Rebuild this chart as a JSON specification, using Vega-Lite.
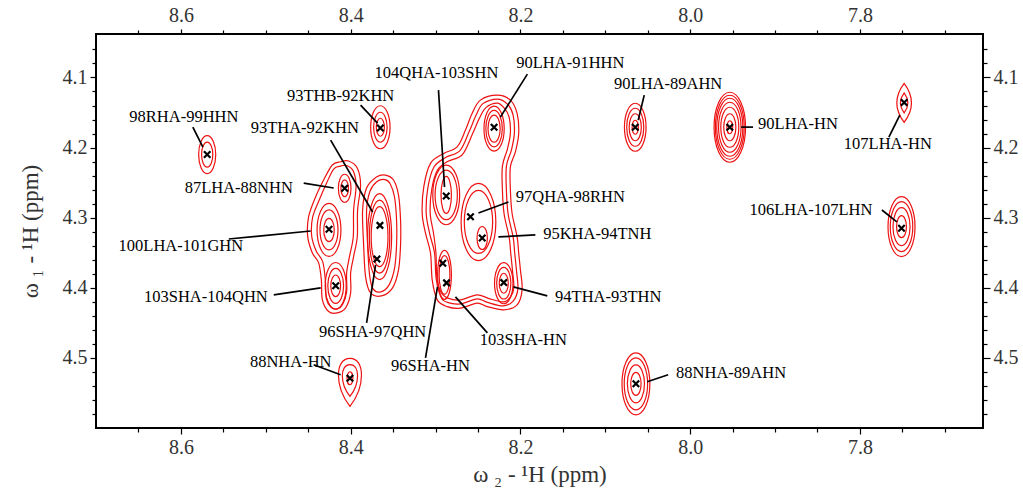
{
"$schema": "https://vega.github.io/schema/vega-lite/v6.json",
"width": 887, "height": 394,
"autosize": "none",
"padding": {"left": 96, "top": 34, "right": 40, "bottom": 60},
"background": "white",
"config": {
  "view": {"stroke": "black", "strokeWidth": 2},
  "font": "Liberation Serif",
  "axis": {"grid": false, "domain": false, "labelFont": "Liberation Serif", "labelFontSize": 20, "labelColor": "#333333", "titleFont": "Liberation Serif", "titleFontSize": 23, "titleFontWeight": "normal", "titleColor": "#333333", "tickColor": "black", "tickWidth": 1.2, "labelOverlap": false, "labelBound": false}
},
"datasets": {
  "contours": [
    {"c":"A1","i":1,"x":8.4118,"y":4.2202},{"c":"A1","i":2,"x":8.4216,"y":4.2249},{"c":"A1","i":3,"x":8.4318,"y":4.2463},{"c":"A1","i":4,"x":8.4412,"y":4.2701},{"c":"A1","i":5,"x":8.4495,"y":4.2986},{"c":"A1","i":6,"x":8.4506,"y":4.3271},{"c":"A1","i":7,"x":8.4451,"y":4.3503},{"c":"A1","i":8,"x":8.4377,"y":4.3645},{"c":"A1","i":9,"x":8.4345,"y":4.3888},{"c":"A1","i":10,"x":8.4333,"y":4.4172},{"c":"A1","i":11,"x":8.4259,"y":4.4339},{"c":"A1","i":12,"x":8.4157,"y":4.4358},{"c":"A1","i":13,"x":8.4059,"y":4.4286},{"c":"A1","i":14,"x":8.4,"y":4.4073},{"c":"A1","i":15,"x":8.4,"y":4.3788},{"c":"A1","i":16,"x":8.3965,"y":4.3556},{"c":"A1","i":17,"x":8.3922,"y":4.3271},{"c":"A1","i":18,"x":8.3918,"y":4.289},{"c":"A1","i":19,"x":8.3883,"y":4.2534},{"c":"A1","i":20,"x":8.3922,"y":4.2292},{"c":"A1","i":21,"x":8.4024,"y":4.2192},
    {"c":"A2","i":1,"x":8.4118,"y":4.2264},{"c":"A2","i":2,"x":8.42,"y":4.2306},{"c":"A2","i":3,"x":8.4283,"y":4.2506},{"c":"A2","i":4,"x":8.4365,"y":4.2734},{"c":"A2","i":5,"x":8.4447,"y":4.299},{"c":"A2","i":6,"x":8.4459,"y":4.3261},{"c":"A2","i":7,"x":8.4406,"y":4.3474},{"c":"A2","i":8,"x":8.433,"y":4.3624},{"c":"A2","i":9,"x":8.4298,"y":4.3888},{"c":"A2","i":10,"x":8.4286,"y":4.4158},{"c":"A2","i":11,"x":8.423,"y":4.4279},{"c":"A2","i":12,"x":8.4157,"y":4.4301},{"c":"A2","i":13,"x":8.4095,"y":4.4237},{"c":"A2","i":14,"x":8.4047,"y":4.4058},{"c":"A2","i":15,"x":8.4047,"y":4.3788},{"c":"A2","i":16,"x":8.4012,"y":4.3546},{"c":"A2","i":17,"x":8.3969,"y":4.3271},{"c":"A2","i":18,"x":8.3965,"y":4.289},{"c":"A2","i":19,"x":8.3936,"y":4.2549},{"c":"A2","i":20,"x":8.3969,"y":4.2335},{"c":"A2","i":21,"x":8.4047,"y":4.2256},
    {"c":"R1","i":1,"x":8.3695,"y":4.242},{"c":"R1","i":2,"x":8.3589,"y":4.2392},{"c":"R1","i":3,"x":8.3495,"y":4.2463},{"c":"R1","i":4,"x":8.3436,"y":4.2677},{"c":"R1","i":5,"x":8.3412,"y":4.3033},{"c":"R1","i":6,"x":8.3412,"y":4.3389},{"c":"R1","i":7,"x":8.3436,"y":4.3745},{"c":"R1","i":8,"x":8.3506,"y":4.4001},{"c":"R1","i":9,"x":8.3636,"y":4.4115},{"c":"R1","i":10,"x":8.3765,"y":4.4073},{"c":"R1","i":11,"x":8.3824,"y":4.3845},{"c":"R1","i":12,"x":8.3847,"y":4.3389},{"c":"R1","i":13,"x":8.3859,"y":4.289},{"c":"R1","i":14,"x":8.3812,"y":4.2577},
    {"c":"R2","i":1,"x":8.3689,"y":4.2484},{"c":"R2","i":2,"x":8.3595,"y":4.2456},{"c":"R2","i":3,"x":8.3536,"y":4.2513},{"c":"R2","i":4,"x":8.3483,"y":4.2705},{"c":"R2","i":5,"x":8.3459,"y":4.3033},{"c":"R2","i":6,"x":8.3459,"y":4.3389},{"c":"R2","i":7,"x":8.3483,"y":4.3724},{"c":"R2","i":8,"x":8.3547,"y":4.3959},{"c":"R2","i":9,"x":8.3642,"y":4.4058},{"c":"R2","i":10,"x":8.3736,"y":4.4016},{"c":"R2","i":11,"x":8.3777,"y":4.3816},{"c":"R2","i":12,"x":8.38,"y":4.3389},{"c":"R2","i":13,"x":8.3812,"y":4.289},{"c":"R2","i":14,"x":8.3771,"y":4.262},
    {"c":"B1","i":1,"x":8.2274,"y":4.1252},{"c":"B1","i":2,"x":8.2118,"y":4.1323},{"c":"B1","i":3,"x":8.2039,"y":4.1513},{"c":"B1","i":4,"x":8.202,"y":4.1798},{"c":"B1","i":5,"x":8.2059,"y":4.206},{"c":"B1","i":6,"x":8.2118,"y":4.2274},{"c":"B1","i":7,"x":8.2118,"y":4.2605},{"c":"B1","i":8,"x":8.2098,"y":4.2937},{"c":"B1","i":9,"x":8.2039,"y":4.3271},{"c":"B1","i":10,"x":8.202,"y":4.3507},{"c":"B1","i":11,"x":8.2,"y":4.3745},{"c":"B1","i":12,"x":8.198,"y":4.403},{"c":"B1","i":13,"x":8.2039,"y":4.4244},{"c":"B1","i":14,"x":8.2197,"y":4.4315},{"c":"B1","i":15,"x":8.2392,"y":4.4268},{"c":"B1","i":16,"x":8.251,"y":4.4219},{"c":"B1","i":17,"x":8.2706,"y":4.4291},{"c":"B1","i":18,"x":8.2863,"y":4.4268},{"c":"B1","i":19,"x":8.298,"y":4.4172},{"c":"B1","i":20,"x":8.3039,"y":4.3888},{"c":"B1","i":21,"x":8.3059,"y":4.3507},{"c":"B1","i":22,"x":8.3118,"y":4.3222},{"c":"B1","i":23,"x":8.3157,"y":4.2937},{"c":"B1","i":24,"x":8.3138,"y":4.2558},{"c":"B1","i":25,"x":8.3059,"y":4.2225},{"c":"B1","i":26,"x":8.2903,"y":4.2083},{"c":"B1","i":27,"x":8.2745,"y":4.1989},{"c":"B1","i":28,"x":8.2647,"y":4.1751},{"c":"B1","i":29,"x":8.2569,"y":4.1513},{"c":"B1","i":30,"x":8.2471,"y":4.1323},
    {"c":"B2","i":1,"x":8.2274,"y":4.1309},{"c":"B2","i":2,"x":8.2153,"y":4.138},{"c":"B2","i":3,"x":8.2086,"y":4.1537},{"c":"B2","i":4,"x":8.2071,"y":4.1794},{"c":"B2","i":5,"x":8.2106,"y":4.2036},{"c":"B2","i":6,"x":8.2165,"y":4.2264},{"c":"B2","i":7,"x":8.2165,"y":4.2605},{"c":"B2","i":8,"x":8.2145,"y":4.2947},{"c":"B2","i":9,"x":8.2086,"y":4.3275},{"c":"B2","i":10,"x":8.2067,"y":4.3503},{"c":"B2","i":11,"x":8.2047,"y":4.3745},{"c":"B2","i":12,"x":8.203,"y":4.4016},{"c":"B2","i":13,"x":8.2083,"y":4.4187},{"c":"B2","i":14,"x":8.22,"y":4.4258},{"c":"B2","i":15,"x":8.2389,"y":4.4208},{"c":"B2","i":16,"x":8.251,"y":4.4158},{"c":"B2","i":17,"x":8.2706,"y":4.4229},{"c":"B2","i":18,"x":8.2859,"y":4.4208},{"c":"B2","i":19,"x":8.2936,"y":4.413},{"c":"B2","i":20,"x":8.2992,"y":4.3873},{"c":"B2","i":21,"x":8.3012,"y":4.3503},{"c":"B2","i":22,"x":8.3071,"y":4.3218},{"c":"B2","i":23,"x":8.311,"y":4.2933},{"c":"B2","i":24,"x":8.3091,"y":4.2577},{"c":"B2","i":25,"x":8.3018,"y":4.2278},{"c":"B2","i":26,"x":8.2883,"y":4.2143},{"c":"B2","i":27,"x":8.2712,"y":4.2043},{"c":"B2","i":28,"x":8.2606,"y":4.1779},{"c":"B2","i":29,"x":8.2524,"y":4.1544},{"c":"B2","i":30,"x":8.2442,"y":4.1373},
    {"c":"B3","i":1,"x":8.2274,"y":4.1366},{"c":"B3","i":2,"x":8.2189,"y":4.1437},{"c":"B3","i":3,"x":8.2133,"y":4.1566},{"c":"B3","i":4,"x":8.2118,"y":4.1794},{"c":"B3","i":5,"x":8.2153,"y":4.2021},{"c":"B3","i":6,"x":8.2212,"y":4.2264},{"c":"B3","i":7,"x":8.2212,"y":4.2605},{"c":"B3","i":8,"x":8.2192,"y":4.2947},{"c":"B3","i":9,"x":8.2133,"y":4.3275},{"c":"B3","i":10,"x":8.2114,"y":4.3503},{"c":"B3","i":11,"x":8.2094,"y":4.3745},{"c":"B3","i":12,"x":8.2077,"y":4.4001},{"c":"B3","i":13,"x":8.2118,"y":4.413},{"c":"B3","i":14,"x":8.22,"y":4.4201},{"c":"B3","i":15,"x":8.2377,"y":4.4151},{"c":"B3","i":16,"x":8.251,"y":4.4101},{"c":"B3","i":17,"x":8.2706,"y":4.4172},{"c":"B3","i":18,"x":8.2847,"y":4.4151},{"c":"B3","i":19,"x":8.293,"y":4.4073},{"c":"B3","i":20,"x":8.2983,"y":4.3873},{"c":"B3","i":21,"x":8.2995,"y":4.3503},{"c":"B3","i":22,"x":8.3024,"y":4.3218},{"c":"B3","i":23,"x":8.3063,"y":4.2933},{"c":"B3","i":24,"x":8.3044,"y":4.2591},{"c":"B3","i":25,"x":8.2977,"y":4.2321},{"c":"B3","i":26,"x":8.2859,"y":4.22},{"c":"B3","i":27,"x":8.2683,"y":4.21},{"c":"B3","i":28,"x":8.2565,"y":4.1808},{"c":"B3","i":29,"x":8.2483,"y":4.158},{"c":"B3","i":30,"x":8.2406,"y":4.143}
  ],
  "rings": [
    {"x":7.9533,"y":4.171,"h":0.0997,"form":"oval"},{"x":7.9533,"y":4.171,"h":0.0912,"form":"oval"},{"x":7.9533,"y":4.171,"h":0.0826,"form":"oval"},{"x":7.9533,"y":4.171,"h":0.0712,"form":"oval"},{"x":7.9533,"y":4.171,"h":0.057,"form":"oval"},{"x":7.9533,"y":4.171,"h":0.0385,"form":"oval"},{"x":7.9533,"y":4.171,"h":0.0185,"form":"oval"},
    {"x":8.0647,"y":4.171,"h":0.0684,"form":"oval"},{"x":8.0647,"y":4.171,"h":0.0541,"form":"oval"},{"x":8.0647,"y":4.171,"h":0.0385,"form":"oval"},{"x":8.0647,"y":4.171,"h":0.0199,"form":"oval"},
    {"x":8.0639,"y":4.537,"h":0.0883,"form":"oval"},{"x":8.0639,"y":4.537,"h":0.0741,"form":"oval"},{"x":8.0639,"y":4.537,"h":0.0541,"form":"oval"},{"x":8.0639,"y":4.537,"h":0.0328,"form":"oval"},
    {"x":8.569,"y":4.21,"h":0.0541,"form":"oval"},{"x":8.569,"y":4.21,"h":0.0356,"form":"oval"},
    {"x":8.365,"y":4.171,"h":0.0613,"form":"oval"},{"x":8.365,"y":4.171,"h":0.0427,"form":"oval"},{"x":8.365,"y":4.171,"h":0.0256,"form":"oval"},
    {"x":7.751,"y":4.3128,"h":0.0855,"form":"oval"},{"x":7.751,"y":4.3128,"h":0.0712,"form":"oval"},{"x":7.751,"y":4.3128,"h":0.0541,"form":"oval"},{"x":7.751,"y":4.3128,"h":0.0313,"form":"oval"},
    {"x":7.7479,"y":4.1363,"h":0.0556,"form":"lens"},{"x":7.7479,"y":4.1363,"h":0.0285,"form":"lens"},
    {"x":8.4008,"y":4.5348,"h":0.0684,"form":"drop"},{"x":8.4008,"y":4.5323,"h":0.0452,"form":"drop"},{"x":8.4008,"y":4.529,"h":0.0185,"form":"oval"},
    {"x":8.231,"y":4.173,"h":0.0385,"form":"oval"},{"x":8.231,"y":4.173,"h":0.052,"form":"oval"},{"x":8.231,"y":4.173,"h":0.064,"form":"oval"},
    {"x":8.2874,"y":4.2675,"h":0.0527,"form":"slim"},{"x":8.2874,"y":4.2675,"h":0.0705,"form":"oval"},{"x":8.2874,"y":4.2675,"h":0.085,"form":"oval"},
    {"x":8.2494,"y":4.3061,"h":0.0897,"form":"oval"},{"x":8.2494,"y":4.3061,"h":0.11,"form":"oval"},
    {"x":8.245,"y":4.329,"h":0.0328,"form":"oval"},
    {"x":8.2894,"y":4.3816,"h":0.055,"form":"slim"},{"x":8.2894,"y":4.3816,"h":0.07,"form":"slim"},
    {"x":8.2196,"y":4.3935,"h":0.0285,"form":"oval"},{"x":8.2196,"y":4.3935,"h":0.045,"form":"oval"},{"x":8.2196,"y":4.3935,"h":0.0585,"form":"oval"},
    {"x":8.407,"y":4.258,"h":0.0238,"form":"oval"},{"x":8.407,"y":4.258,"h":0.0399,"form":"oval"},
    {"x":8.4255,"y":4.3175,"h":0.0332,"form":"oval"},{"x":8.4255,"y":4.3175,"h":0.057,"form":"oval"},{"x":8.4255,"y":4.3175,"h":0.0755,"form":"oval"},
    {"x":8.4176,"y":4.3972,"h":0.0309,"form":"oval"},{"x":8.4176,"y":4.3972,"h":0.0499,"form":"oval"},{"x":8.4176,"y":4.3972,"h":0.0665,"form":"oval"},
    {"x":8.3659,"y":4.3271,"h":0.0855,"form":"slim"},{"x":8.3659,"y":4.3271,"h":0.104,"form":"slim"},{"x":8.3659,"y":4.3271,"h":0.1225,"form":"slim"}
  ],
  "peaks": [
    {"x":8.569,"y":4.21},{"x":8.365,"y":4.172},{"x":8.407,"y":4.258},{"x":8.4255,"y":4.3165},{"x":8.3655,"y":4.311},{"x":8.369,"y":4.359},{"x":8.4176,"y":4.397},{"x":8.4008,"y":4.529},{"x":8.2874,"y":4.269},{"x":8.231,"y":4.171},{"x":8.2588,"y":4.2986},{"x":8.245,"y":4.329},{"x":8.2914,"y":4.365},{"x":8.287,"y":4.393},{"x":8.2196,"y":4.3926},{"x":8.0647,"y":4.171},{"x":7.9533,"y":4.171},{"x":7.7479,"y":4.1356},{"x":7.751,"y":4.315},{"x":8.0639,"y":4.537}
  ],
  "labels": [
    {"text":"98RHA-99HHN","x":8.5965,"y":4.1566},
    {"text":"93THB-92KHN","x":8.4118,"y":4.1266},
    {"text":"93THA-92KHN","x":8.4541,"y":4.1722},
    {"text":"87LHA-88NHN","x":8.5318,"y":4.2577},
    {"text":"100LHA-101GHN","x":8.6,"y":4.3403},
    {"text":"104QHA-103SHN","x":8.2989,"y":4.0939},
    {"text":"90LHA-91HHN","x":8.1412,"y":4.0796},
    {"text":"90LHA-89AHN","x":8.0259,"y":4.1096},
    {"text":"90LHA-HN","x":7.873,"y":4.1665},
    {"text":"107LHA-HN","x":7.7671,"y":4.195},
    {"text":"106LHA-107LHN","x":7.8577,"y":4.289},
    {"text":"97QHA-98RHN","x":8.1412,"y":4.2705},
    {"text":"95KHA-94TNH","x":8.1095,"y":4.3232},
    {"text":"94THA-93THN","x":8.0965,"y":4.413},
    {"text":"103SHA-HN","x":8.1965,"y":4.4742},
    {"text":"96SHA-HN","x":8.3059,"y":4.5113},
    {"text":"96SHA-97QHN","x":8.3741,"y":4.4628},
    {"text":"103SHA-104QHN","x":8.5706,"y":4.413},
    {"text":"88NHA-HN","x":8.4706,"y":4.5056},
    {"text":"88NHA-89AHN","x":7.9518,"y":4.5212}
  ],
  "leaders": [
    {"x":8.5859,"y":4.1708,"x2":8.5741,"y2":4.1993},
    {"x":8.3883,"y":4.1395,"x2":8.3683,"y2":4.1651},
    {"x":8.4236,"y":4.1893,"x2":8.3741,"y2":4.2919},
    {"x":8.4553,"y":4.2506,"x2":8.42,"y2":4.2577},
    {"x":8.5436,"y":4.3304,"x2":8.4471,"y2":4.319},
    {"x":8.2965,"y":4.1181,"x2":8.2894,"y2":4.2563},
    {"x":8.1918,"y":4.0953,"x2":8.2236,"y2":4.1566},
    {"x":8.0541,"y":4.1252,"x2":8.0612,"y2":4.1608},
    {"x":7.94,"y":4.1708,"x2":7.9259,"y2":4.1708},
    {"x":7.7659,"y":4.1851,"x2":7.753,"y2":4.1537},
    {"x":7.7741,"y":4.289,"x2":7.7565,"y2":4.3061},
    {"x":8.2141,"y":4.2776,"x2":8.2494,"y2":4.2933},
    {"x":8.1824,"y":4.3246,"x2":8.2259,"y2":4.3275},
    {"x":8.1683,"y":4.4115,"x2":8.2083,"y2":4.3987},
    {"x":8.2389,"y":4.4643,"x2":8.2765,"y2":4.413},
    {"x":8.3118,"y":4.4999,"x2":8.2977,"y2":4.3987},
    {"x":8.3812,"y":4.45,"x2":8.3706,"y2":4.3674},
    {"x":8.4906,"y":4.4101,"x2":8.4353,"y2":4.4001},
    {"x":8.4436,"y":4.5098,"x2":8.4118,"y2":4.5241},
    {"x":8.0259,"y":4.5241,"x2":8.0506,"y2":4.5341}
  ]
},
"layer": [
  {
    "data": {"name": "contours"},
    "mark": {"type": "line", "interpolate": "cardinal-closed", "stroke": "#ee1111", "strokeWidth": 1.2},
    "encoding": {
      "x": {"field": "x", "type": "quantitative", "scale": {"domain": [7.655, 8.7], "reverse": true, "zero": false, "nice": false},
        "axis": {"orient": "bottom", "values": [8.65,8.6,8.55,8.5,8.45,8.4,8.35,8.3,8.25,8.2,8.15,8.1,8.05,8.0,7.95,7.9,7.85,7.8,7.75,7.7],
          "labelExpr": "abs(datum.value*5-round(datum.value*5))<0.01 ? format(datum.value,'.1f') : ''",
          "tickSize": {"condition": {"test": "abs(datum.value*5-round(datum.value*5))<0.01", "value": 6}, "value": 4},
          "labelPadding": 3, "title": "ω ₂ - ¹H  (ppm)", "titlePadding": 6}},
      "y": {"field": "y", "type": "quantitative", "scale": {"domain": [4.038, 4.6], "reverse": true, "zero": false, "nice": false},
        "axis": {"orient": "left", "values": [4.06,4.08,4.1,4.12,4.14,4.16,4.18,4.2,4.22,4.24,4.26,4.28,4.3,4.32,4.34,4.36,4.38,4.4,4.42,4.44,4.46,4.48,4.5,4.52,4.54,4.56,4.58],
          "labelExpr": "abs(datum.value*10-round(datum.value*10))<0.01 ? format(datum.value,'.1f') : ''",
          "tickSize": {"condition": {"test": "abs(datum.value*10-round(datum.value*10))<0.01", "value": 6}, "value": 4},
          "labelPadding": 3, "title": "ω ₁ - ¹H  (ppm)", "titlePadding": 20}},
      "detail": {"field": "c", "type": "nominal"},
      "order": {"field": "i", "type": "quantitative"}
    }
  },
  {
    "data": {"name": "rings"},
    "mark": {"type": "point", "filled": false, "stroke": "#ee1111", "strokeWidth": 1.2, "opacity": 1},
    "encoding": {
      "x": {"field": "x", "type": "quantitative", "scale": {"domain": [7.655, 8.7], "reverse": true, "zero": false, "nice": false},
        "axis": {"orient": "top", "values": [8.65,8.6,8.55,8.5,8.45,8.4,8.35,8.3,8.25,8.2,8.15,8.1,8.05,8.0,7.95,7.9,7.85,7.8,7.75,7.7],
          "labelExpr": "abs(datum.value*5-round(datum.value*5))<0.01 ? format(datum.value,'.1f') : ''",
          "tickSize": {"condition": {"test": "abs(datum.value*5-round(datum.value*5))<0.01", "value": 5}, "value": 4},
          "labelPadding": 4, "title": null}},
      "y": {"field": "y", "type": "quantitative", "scale": {"domain": [4.038, 4.6], "reverse": true, "zero": false, "nice": false},
        "axis": {"orient": "right", "values": [4.06,4.08,4.1,4.12,4.14,4.16,4.18,4.2,4.22,4.24,4.26,4.28,4.3,4.32,4.34,4.36,4.38,4.4,4.42,4.44,4.46,4.48,4.5,4.52,4.54,4.56,4.58],
          "labelExpr": "abs(datum.value*10-round(datum.value*10))<0.01 ? format(datum.value,'.1f') : ''",
          "tickSize": {"condition": {"test": "abs(datum.value*10-round(datum.value*10))<0.01", "value": 7}, "value": 4},
          "labelPadding": 3, "title": null}},
      "size": {"field": "h", "type": "quantitative", "scale": {"type": "pow", "exponent": 2, "domain": [0, 0.1], "range": [0, 4928], "zero": true}, "legend": null},
      "shape": {"field": "form", "type": "nominal", "scale": {"domain": ["oval", "slim", "lens", "drop"], "range": [
        "M0,-1C0.2485,-1 0.45,-0.5523 0.45,0C0.45,0.5523 0.2485,1 0,1C-0.2485,1 -0.45,0.5523 -0.45,0C-0.45,-0.5523 -0.2485,-1 0,-1Z",
        "M0,-1C0.1546,-1 0.28,-0.5523 0.28,0C0.28,0.5523 0.1546,1 0,1C-0.1546,1 -0.28,0.5523 -0.28,0C-0.28,-0.5523 -0.1546,-1 0,-1Z",
        "M0,-1Q0.75,0 0,1Q-0.75,0 0,-1Z",
        "M0,1C0.64,0.2 0.64,-1 0,-1C-0.64,-1 -0.64,0.2 0,1Z"
      ]}, "legend": null}
    }
  },
  {
    "data": {"name": "peaks"},
    "mark": {"type": "point", "filled": false, "shape": "M-1,-1L1,1M1,-1L-1,1", "size": 42, "stroke": "black", "strokeWidth": 2.2, "opacity": 1},
    "encoding": {
      "x": {"field": "x", "type": "quantitative", "scale": {"domain": [7.655, 8.7], "reverse": true, "zero": false, "nice": false}, "axis": null},
      "y": {"field": "y", "type": "quantitative", "scale": {"domain": [4.038, 4.6], "reverse": true, "zero": false, "nice": false}, "axis": null}
    }
  },
  {
    "data": {"name": "leaders"},
    "mark": {"type": "rule", "stroke": "black", "strokeWidth": 1.7},
    "encoding": {
      "x": {"field": "x", "type": "quantitative", "scale": {"domain": [7.655, 8.7], "reverse": true, "zero": false, "nice": false}, "axis": null},
      "y": {"field": "y", "type": "quantitative", "scale": {"domain": [4.038, 4.6], "reverse": true, "zero": false, "nice": false}, "axis": null},
      "x2": {"field": "x2"},
      "y2": {"field": "y2"}
    }
  },
  {
    "data": {"name": "labels"},
    "mark": {"type": "text", "font": "Liberation Serif", "fontSize": 16.5, "color": "#000000", "align": "center", "baseline": "middle"},
    "encoding": {
      "x": {"field": "x", "type": "quantitative", "scale": {"domain": [7.655, 8.7], "reverse": true, "zero": false, "nice": false}, "axis": null},
      "y": {"field": "y", "type": "quantitative", "scale": {"domain": [4.038, 4.6], "reverse": true, "zero": false, "nice": false}, "axis": null},
      "text": {"field": "text", "type": "nominal"}
    }
  }
],
"resolve": {"axis": {"x": "independent", "y": "independent"}}
}
